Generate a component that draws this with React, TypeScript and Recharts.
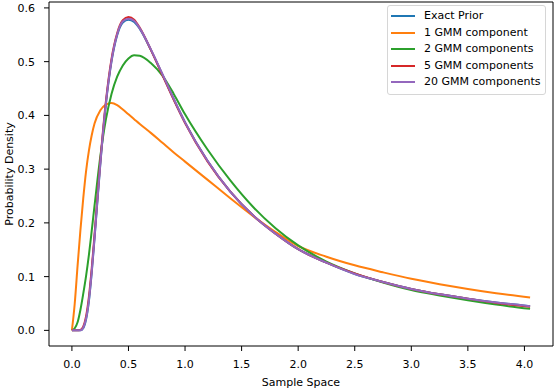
import React from 'react';
import { LineChart, Line, XAxis, YAxis, Legend, ReferenceArea, Label } from 'recharts';

const xValues = [0, 0.025, 0.05, 0.075, 0.1, 0.125, 0.15, 0.175, 0.2, 0.25, 0.3, 0.35, 0.4, 0.45, 0.5, 0.55, 0.6, 0.7, 0.8, 0.9, 1.0, 1.2, 1.4, 1.6, 1.8, 2.0, 2.25, 2.5, 2.75, 3.0, 3.25, 3.5, 3.75, 4.05];

const exactPrior = [0, 0, 0, 0, 0.004, 0.02, 0.054, 0.107, 0.171, 0.306, 0.42, 0.5, 0.549, 0.573, 0.578, 0.574, 0.561, 0.521, 0.476, 0.43, 0.387, 0.315, 0.258, 0.214, 0.18, 0.151, 0.126, 0.105, 0.09, 0.077, 0.067, 0.059, 0.052, 0.045];
const gmm1 = [0, 0.05, 0.12, 0.186, 0.245, 0.296, 0.334, 0.363, 0.385, 0.409, 0.42, 0.423, 0.419, 0.411, 0.402, 0.393, 0.384, 0.367, 0.349, 0.331, 0.314, 0.28, 0.246, 0.213, 0.183, 0.157, 0.137, 0.121, 0.108, 0.096, 0.086, 0.077, 0.069, 0.061];
const gmm2 = [0, 0.004, 0.015, 0.038, 0.068, 0.101, 0.14, 0.185, 0.232, 0.322, 0.392, 0.44, 0.472, 0.493, 0.506, 0.512, 0.511, 0.497, 0.474, 0.44, 0.402, 0.336, 0.279, 0.23, 0.19, 0.158, 0.128, 0.106, 0.089, 0.075, 0.065, 0.056, 0.048, 0.04];
const gmm5 = [0, 0, 0, 0.001, 0.007, 0.026, 0.062, 0.115, 0.178, 0.312, 0.425, 0.505, 0.553, 0.577, 0.583, 0.578, 0.563, 0.521, 0.475, 0.429, 0.386, 0.314, 0.258, 0.214, 0.18, 0.151, 0.126, 0.106, 0.09, 0.077, 0.067, 0.059, 0.051, 0.044];
const gmm20 = [0, 0, 0, 0, 0.005, 0.022, 0.056, 0.109, 0.173, 0.308, 0.422, 0.502, 0.551, 0.575, 0.58, 0.576, 0.562, 0.522, 0.477, 0.431, 0.387, 0.315, 0.258, 0.214, 0.18, 0.151, 0.126, 0.105, 0.09, 0.077, 0.067, 0.059, 0.052, 0.045];

const xTicks = [0, 0.5, 1, 1.5, 2, 2.5, 3, 3.5, 4];
const yTicks = [0, 0.1, 0.2, 0.3, 0.4, 0.5, 0.6];

const seriesKeys = ['exact', 'g1', 'g2', 'g5', 'g20'];
const seriesNames = ['Exact Prior', '1 GMM component', '2 GMM components', '5 GMM components', '20 GMM components'];
const seriesColors = ['#1f77b4', '#ff7f0e', '#2ca02c', '#d62728', '#9467bd'];
const seriesValues = [exactPrior, gmm1, gmm2, gmm5, gmm20];

const data = xValues.map((x, i) => {
  const row: Record<string, number> = { x };
  seriesKeys.forEach((k, j) => {
    row[k] = seriesValues[j][i];
  });
  return row;
});

const X_DOMAIN: [number, number] = [-0.2025, 4.2525];
const Y_DOMAIN: [number, number] = [-0.0291, 0.611];
const FONT = "'DejaVu Sans', sans-serif";

const renderLegend = () => (
  <div
    style={{
      boxSizing: 'border-box',
      width: 159,
      border: '1px solid #d6d6d6',
      borderRadius: 3,
      background: 'rgba(255,255,255,0.8)',
      padding: '2px 3px 3px 3px',
      fontFamily: FONT,
      fontSize: 11,
      color: '#000',
    }}
  >
    {seriesNames.map((n, i) => (
      <div key={n} style={{ display: 'flex', alignItems: 'center', height: 16.5, whiteSpace: 'nowrap' }}>
        <span style={{ display: 'inline-block', width: 24, height: 2, background: seriesColors[i], marginRight: 9, flex: 'none' }} />
        <span style={{ lineHeight: '16.5px' }}>{n}</span>
      </div>
    ))}
  </div>
);

export default function App() {
  return (
    <div style={{ position: 'absolute', left: 0, top: 0, width: 554, height: 390, background: '#fff' }}>
      <LineChart width={554} height={390} data={data} margin={{ top: 2, right: 1, bottom: 0, left: 0 }} style={{ fontFamily: FONT }}>
        <ReferenceArea x1={X_DOMAIN[0]} x2={X_DOMAIN[1]} y1={Y_DOMAIN[0]} y2={Y_DOMAIN[1]} fill="none" stroke="#000" strokeWidth={1} ifOverflow="visible" />
        <XAxis
          type="number"
          dataKey="x"
          domain={X_DOMAIN}
          allowDataOverflow
          ticks={xTicks}
          tickFormatter={(v: number) => v.toFixed(1)}
          height={44}
          axisLine={false}
          tickLine={{ stroke: '#000' }}
          tickSize={5}
          tickMargin={9}
          tick={{ fill: '#000', fontSize: 11, fontFamily: FONT }}
          interval={0}
        >
          <Label value="Sample Space" position="insideBottom" offset={4} fill="#000" fontSize={11} fontFamily={FONT} />
        </XAxis>
        <YAxis
          type="number"
          domain={Y_DOMAIN}
          allowDataOverflow
          ticks={yTicks}
          tickFormatter={(v: number) => v.toFixed(1)}
          width={49}
          axisLine={false}
          tickLine={{ stroke: '#000' }}
          tickSize={5}
          tickMargin={9}
          tick={{ fill: '#000', fontSize: 11, fontFamily: FONT }}
          interval={0}
        >
          <Label value="Probability Density" angle={-90} position="insideLeft" offset={9} fill="#000" fontSize={11} fontFamily={FONT} style={{ textAnchor: 'middle' }} />
        </YAxis>
        <Legend
          layout="horizontal"
          align="center"
          verticalAlign="middle"
          content={renderLegend}
          wrapperStyle={{ left: 387, top: 5, width: 159, height: 'auto' }}
        />
        {seriesKeys.map((k, i) => (
          <Line
            key={k}
            type="monotone"
            dataKey={k}
            name={seriesNames[i]}
            stroke={seriesColors[i]}
            strokeWidth={2}
            dot={false}
            activeDot={false}
            isAnimationActive={false}
          />
        ))}
      </LineChart>
    </div>
  );
}
